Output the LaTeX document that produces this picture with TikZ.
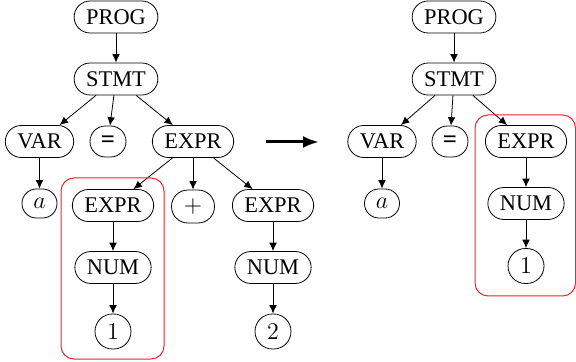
\documentclass[tikz,border=0pt]{standalone}
\usepackage{fontspec}
\setmainfont{Liberation Serif}
\usetikzlibrary{arrows.meta}
\definecolor{hlred}{RGB}{232,40,40}
\begin{document}
\begin{tikzpicture}[x=0.5pt,y=-0.5pt,
  tn/.style={draw, rounded corners=8pt, minimum height=16pt, inner xsep=6pt, inner ysep=0pt,
    font=\fontsize{11.2}{13}\selectfont},
  sm/.style={draw, inner sep=0pt, font=\fontsize{12.4}{14}\selectfont},
  edge/.style={-{Latex[length=4.2pt,width=3.8pt]}},
  hl/.style={draw=hlred, line width=0.5pt, rounded corners=6.5pt},
  bigarrow/.style={line width=1.5pt, -{Latex[length=8pt,width=6pt]}}
]
\useasboundingbox (0,0) rectangle (576,362);

% left tree
\node[tn] (p1) at (116,17) {PROG};
\node[tn] (s1) at (116,79) {STMT};
\node[tn] (v1) at (39.5,141.5) {VAR};
\node[sm, minimum width=18pt, minimum height=15.5pt, rounded corners=7.7pt] (e1) at (108,141.5) {\textbf{=}};
\node[tn] (x1) at (193,141.5) {EXPR};
\node[sm, minimum width=17.5pt, minimum height=14.5pt, rounded corners=7.2pt] (a1) at (39.5,203.5) {$a$};
\node[tn] (x2) at (113,205.5) {EXPR};
\node[sm, minimum width=21.5pt, minimum height=16.5pt, rounded corners=8.2pt] (pl) at (193,206.5) {$+$};
\node[tn] (x3) at (273,205.5) {EXPR};
\node[tn] (n1) at (113,267.5) {NUM};
\node[tn] (n2) at (273,267.5) {NUM};
\node[sm, minimum width=18pt, minimum height=17.5pt, rounded corners=8.7pt] (o1) at (113,331.5) {$1$};
\node[sm, minimum width=18pt, minimum height=17.5pt, rounded corners=8.7pt] (o2) at (273,331.5) {$2$};

\draw[edge] (p1) -- (s1);
\draw[edge] (s1) -- (v1);
\draw[edge] (s1) -- (e1);
\draw[edge] (s1) -- (x1);
\draw[edge] (v1) -- (a1);
\draw[edge] (x1) -- (x2);
\draw[edge] (x1) -- (pl);
\draw[edge] (x1) -- (x3);
\draw[edge] (x2) -- (n1);
\draw[edge] (n1) -- (o1);
\draw[edge] (x3) -- (n2);
\draw[edge] (n2) -- (o2);

\draw[hl] (61,178) rectangle (164,359);

% arrow
\coordinate (ta) at (266,142);
\coordinate (tb) at (319,142);
\draw[bigarrow] (ta) -- (tb);

% right tree
\node[tn] (p2) at (454,17) {PROG};
\node[tn] (s2) at (454,79) {STMT};
\node[tn] (v2) at (382,141.5) {VAR};
\node[sm, minimum width=18pt, minimum height=15.5pt, rounded corners=7.7pt] (e2) at (450,141.5) {\textbf{=}};
\node[tn] (x4) at (526,141.5) {EXPR};
\node[sm, minimum width=17.5pt, minimum height=14.5pt, rounded corners=7.2pt] (a2) at (382,203.5) {$a$};
\node[tn] (n3) at (526,203.5) {NUM};
\node[sm, minimum width=18pt, minimum height=17.5pt, rounded corners=8.7pt] (o3) at (526,266) {$1$};

\draw[edge] (p2) -- (s2);
\draw[edge] (s2) -- (v2);
\draw[edge] (s2) -- (e2);
\draw[edge] (s2) -- (x4);
\draw[edge] (v2) -- (a2);
\draw[edge] (x4) -- (n3);
\draw[edge] (n3) -- (o3);

\draw[hl] (475,115) rectangle (575.5,296);
\end{tikzpicture}
\end{document}
